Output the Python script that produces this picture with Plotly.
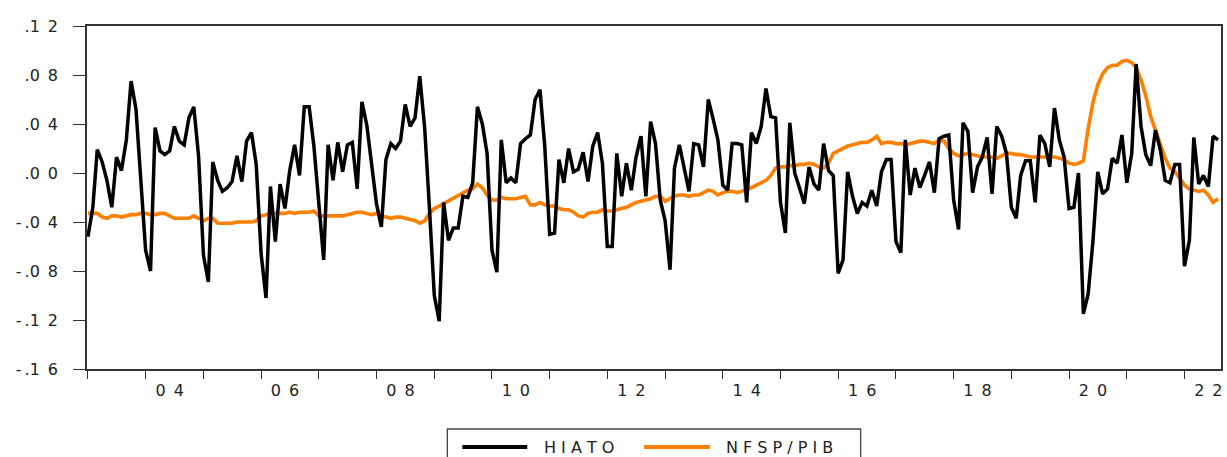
import pandas as pd
import plotly.graph_objects as go

# Monthly observations, 2003M01 - 2022M08
months = pd.date_range("2003-01-01", periods=236, freq="MS")

hiato = [
    -0.052, -0.028, 0.019, 0.009, -0.006, -0.028, 0.013, 0.002, 0.027, 0.075,
    0.052, 0.000, -0.063, -0.080, 0.037, 0.018, 0.015, 0.018, 0.038, 0.026,
    0.023, 0.045, 0.054, 0.014, -0.067, -0.089, 0.009, -0.006, -0.015, -0.012,
    -0.007, 0.014, -0.007, 0.026, 0.033, 0.007, -0.066, -0.102, -0.011, -0.056,
    -0.009, -0.029, 0.002, 0.023, -0.002, 0.054, 0.054, 0.022, -0.028, -0.071,
    0.023, -0.006, 0.025, 0.001, 0.023, 0.025, -0.013, 0.058, 0.039, 0.008,
    -0.025, -0.044, 0.011, 0.024, 0.020, 0.026, 0.056, 0.038, 0.045, 0.079,
    0.037, -0.028, -0.100, -0.121, -0.024, -0.055, -0.045, -0.045, -0.019, -0.020,
    -0.008, 0.054, 0.040, 0.016, -0.063, -0.081, 0.027, -0.008, -0.004, -0.008,
    0.024, 0.028, 0.031, 0.060, 0.068, 0.022, -0.050, -0.049, 0.011, -0.008,
    0.020, 0.001, 0.003, 0.017, -0.007, 0.022, 0.033, 0.008, -0.060, -0.060,
    0.016, -0.019, 0.008, -0.014, 0.013, 0.030, -0.019, 0.042, 0.024, -0.022,
    -0.039, -0.079, 0.004, 0.023, 0.005, -0.015, 0.024, 0.023, 0.005, 0.060,
    0.044, 0.027, -0.010, -0.014, 0.024, 0.024, 0.023, -0.024, 0.033, 0.024,
    0.038, 0.069, 0.046, 0.045, -0.024, -0.049, 0.041, 0.000, -0.012, -0.025,
    0.005, -0.009, -0.014, 0.024, 0.002, -0.002, -0.082, -0.071, 0.001, -0.019,
    -0.033, -0.024, -0.027, -0.014, -0.027, 0.001, 0.011, 0.011, -0.056, -0.065,
    0.027, -0.018, 0.004, -0.012, -0.002, 0.009, -0.016, 0.028, 0.030, 0.031,
    -0.022, -0.046, 0.041, 0.034, -0.016, 0.005, 0.013, 0.029, -0.017, 0.038,
    0.030, 0.016, -0.028, -0.037, -0.002, 0.010, 0.010, -0.024, 0.031, 0.024,
    0.005, 0.053, 0.027, 0.013, -0.029, -0.028, 0.000, -0.115, -0.099, -0.055,
    0.001, -0.017, -0.013, 0.012, 0.008, 0.031, -0.008, 0.016, 0.089, 0.038,
    0.015, 0.006, 0.035, 0.019, -0.006, -0.008, 0.007, 0.007, -0.076, -0.055,
    0.029, -0.009, -0.002, -0.011, 0.030, 0.027,
]

nfsp_pib = [
    -0.033, -0.033, -0.033, -0.036, -0.037, -0.035, -0.035, -0.036, -0.035, -0.034,
    -0.034, -0.033, -0.033, -0.034, -0.034, -0.033, -0.033, -0.035, -0.037, -0.037,
    -0.037, -0.037, -0.035, -0.037, -0.039, -0.037, -0.037, -0.041, -0.041, -0.041,
    -0.041, -0.040, -0.040, -0.040, -0.040, -0.039, -0.035, -0.034, -0.033, -0.033,
    -0.033, -0.033, -0.032, -0.033, -0.032, -0.032, -0.032, -0.031, -0.035, -0.035,
    -0.035, -0.035, -0.035, -0.035, -0.034, -0.033, -0.032, -0.032, -0.033, -0.034,
    -0.033, -0.035, -0.036, -0.037, -0.036, -0.036, -0.037, -0.038, -0.039, -0.041,
    -0.039, -0.033, -0.029, -0.027, -0.025, -0.023, -0.021, -0.018, -0.016, -0.014,
    -0.013, -0.009, -0.012, -0.018, -0.022, -0.022, -0.020, -0.021, -0.021, -0.021,
    -0.020, -0.019, -0.026, -0.026, -0.024, -0.026, -0.027, -0.027, -0.029, -0.030,
    -0.030, -0.032, -0.035, -0.036, -0.033, -0.032, -0.032, -0.030, -0.031, -0.031,
    -0.030, -0.029, -0.028, -0.026, -0.024, -0.023, -0.022, -0.021, -0.019, -0.019,
    -0.023, -0.021, -0.019, -0.018, -0.018, -0.019, -0.018, -0.018, -0.016, -0.014,
    -0.015, -0.018, -0.016, -0.015, -0.015, -0.016, -0.015, -0.013, -0.012, -0.010,
    -0.008, -0.006, -0.002, 0.004, 0.005, 0.005, 0.006, 0.006, 0.007, 0.007,
    0.008, 0.007, 0.005, 0.004, 0.008, 0.016, 0.018, 0.020, 0.022, 0.023,
    0.024, 0.025, 0.025, 0.027, 0.030, 0.024, 0.025, 0.025, 0.024, 0.024,
    0.023, 0.024, 0.025, 0.026, 0.026, 0.025, 0.024, 0.027, 0.026, 0.020,
    0.016, 0.014, 0.015, 0.016, 0.015, 0.014, 0.013, 0.013, 0.013, 0.012,
    0.014, 0.016, 0.016, 0.015, 0.015, 0.014, 0.013, 0.013, 0.013, 0.013,
    0.013, 0.013, 0.012, 0.011, 0.008, 0.007, 0.008, 0.010, 0.036, 0.058,
    0.072, 0.081, 0.086, 0.088, 0.088, 0.091, 0.092, 0.090, 0.086, 0.076,
    0.063, 0.046, 0.035, 0.024, 0.012, 0.004, 0.001, -0.004, -0.010, -0.013,
    -0.014, -0.015, -0.014, -0.018, -0.024, -0.021,
]

series_names = ["H I A T O", "N F S P / P I B"]
series_colors = ["#000000", "#FF8000"]

y_tick_vals = [0.12, 0.08, 0.04, 0.00, -0.04, -0.08, -0.12, -0.16]
y_tick_text = [".1\u20022", ".0\u20028", ".0\u20024", ".0\u20020",
               "-\u2009.0\u20024", "-\u2009.0\u20028", "-\u2009.1\u20022", "-\u2009.1\u20026"]

year_ticks = pd.date_range("2003-01-01", "2022-01-01", freq="YS")
label_years = [2004, 2006, 2008, 2010, 2012, 2014, 2016, 2018, 2020, 2022]
label_text = ["0\u20024", "0\u20026", "0\u20028", "1\u20020", "1\u20022",
              "1\u20024", "1\u20026", "1\u20028", "2\u20020", "2\u20022"]
label_pos = [pd.Timestamp(f"{y}-06-01") for y in label_years]

W, H = 1227, 457
M_L, M_R, M_T, M_B = 87, 4, 26, 88
x_range = ["2002-12-26", "2022-08-20"]
FONT = "DejaVu Sans"
TXT = "#222222"
AX = "#333333"
FS = 16

fig = go.Figure()
fig.add_trace(go.Scatter(x=months, y=nfsp_pib, mode="lines", name=series_names[1],
                         line=dict(color=series_colors[1], width=3.6), showlegend=False))
fig.add_trace(go.Scatter(x=months, y=hiato, mode="lines", name=series_names[0],
                         line=dict(color=series_colors[0], width=3.5), showlegend=False))

# Legend box drawn below the plot, in pixel units converted to paper coords
pw, ph = W - M_L - M_R, H - M_T - M_B


def px(x):
    return (x - M_L) / pw


def py(y):
    return (H - M_B - y) / ph


shapes = [
    dict(type="rect", xref="paper", yref="paper", x0=px(448), x1=px(862),
         y0=py(472), y1=py(429), line=dict(color="#444444", width=1.3),
         fillcolor="white", layer="above"),
]
annotations = []
key_x = [(463, 528, 543), (645, 711, 725)]
for (k0, k1, tx), name, color in zip(key_x, series_names, series_colors):
    shapes.append(dict(type="line", xref="paper", yref="paper", x0=px(k0), x1=px(k1),
                       y0=py(447), y1=py(447), line=dict(color=color, width=4)))
    annotations.append(dict(xref="paper", yref="paper", x=px(tx), y=py(447.5),
                            text=name, showarrow=False, xanchor="left", yanchor="middle",
                            font=dict(family=FONT, size=FS, color=TXT)))

fig.update_layout(
    width=W, height=H,
    margin=dict(l=M_L, r=M_R, t=M_T, b=M_B, pad=0),
    paper_bgcolor="white", plot_bgcolor="white",
    font=dict(family=FONT, size=FS, color=TXT),
    shapes=shapes, annotations=annotations,
    xaxis=dict(
        type="date", range=x_range, tickmode="array", tickvals=label_pos,
        ticktext=label_text, ticks="", ticklabelstandoff=6,
        ticklabeloverflow="allow",
        tickfont=dict(family=FONT, size=FS, color=TXT),
        minor=dict(tickmode="array", tickvals=year_ticks, ticks="outside",
                   ticklen=8, tickwidth=1.2, tickcolor=AX, showgrid=False),
        showline=True, linecolor=AX, linewidth=1.5, mirror=True,
        showgrid=False, zeroline=False,
    ),
    yaxis=dict(
        range=[-0.16, 0.12], tickmode="array", tickvals=y_tick_vals, ticktext=y_tick_text,
        ticks="outside", ticklen=12, tickwidth=1.2, tickcolor=AX,
        showline=True, linecolor=AX, linewidth=1.5, mirror=True,
        showgrid=False, zeroline=False, ticklabelstandoff=12,
        tickfont=dict(family=FONT, size=FS, color=TXT),
    ),
)

fig.write_html("out.html")
